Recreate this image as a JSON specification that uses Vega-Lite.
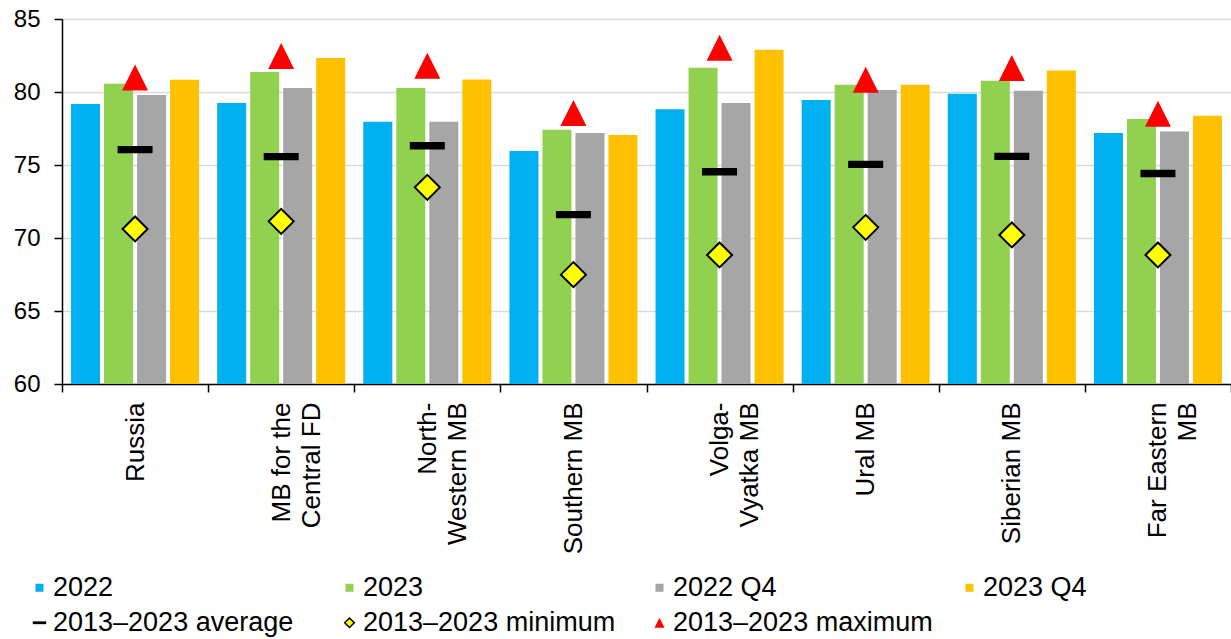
{
  "$schema": "https://vega.github.io/schema/vega-lite/v6.json",
  "width": 1169,
  "height": 365,
  "autosize": {"type": "none"},
  "padding": {"left": 62, "top": 19, "right": 0, "bottom": 255},
  "background": "white",
  "config": {
    "view": {"stroke": null},
    "font": "Liberation Sans",
    "axis": {"labelFont": "Liberation Sans", "labelColor": "#000000", "domainColor": "#000000", "tickColor": "#000000"},
    "legend": {"labelFont": "Liberation Sans", "labelColor": "#000000", "labelLimit": 400}
  },
  "datasets": {
    "bars": [
      {"region": "Russia", "series": "2022", "value": 79.18},
      {"region": "Russia", "series": "2023", "value": 80.57},
      {"region": "Russia", "series": "2022 Q4", "value": 79.79},
      {"region": "Russia", "series": "2023 Q4", "value": 80.84},
      {"region": "MB for the|Central FD", "series": "2022", "value": 79.25},
      {"region": "MB for the|Central FD", "series": "2023", "value": 81.37},
      {"region": "MB for the|Central FD", "series": "2022 Q4", "value": 80.27},
      {"region": "MB for the|Central FD", "series": "2023 Q4", "value": 82.33},
      {"region": "North-|Western MB", "series": "2022", "value": 77.97},
      {"region": "North-|Western MB", "series": "2023", "value": 80.27},
      {"region": "North-|Western MB", "series": "2022 Q4", "value": 77.97},
      {"region": "North-|Western MB", "series": "2023 Q4", "value": 80.86},
      {"region": "Southern MB", "series": "2022", "value": 75.96},
      {"region": "Southern MB", "series": "2023", "value": 77.42},
      {"region": "Southern MB", "series": "2022 Q4", "value": 77.19},
      {"region": "Southern MB", "series": "2023 Q4", "value": 77.05},
      {"region": "Volga-|Vyatka MB", "series": "2022", "value": 78.81},
      {"region": "Volga-|Vyatka MB", "series": "2023", "value": 81.66},
      {"region": "Volga-|Vyatka MB", "series": "2022 Q4", "value": 79.25},
      {"region": "Volga-|Vyatka MB", "series": "2023 Q4", "value": 82.9},
      {"region": "Ural MB", "series": "2022", "value": 79.45},
      {"region": "Ural MB", "series": "2023", "value": 80.5},
      {"region": "Ural MB", "series": "2022 Q4", "value": 80.14},
      {"region": "Ural MB", "series": "2023 Q4", "value": 80.5},
      {"region": "Siberian MB", "series": "2022", "value": 79.88},
      {"region": "Siberian MB", "series": "2023", "value": 80.77},
      {"region": "Siberian MB", "series": "2022 Q4", "value": 80.09},
      {"region": "Siberian MB", "series": "2023 Q4", "value": 81.48},
      {"region": "Far Eastern|MB", "series": "2022", "value": 77.19},
      {"region": "Far Eastern|MB", "series": "2023", "value": 78.15},
      {"region": "Far Eastern|MB", "series": "2022 Q4", "value": 77.3},
      {"region": "Far Eastern|MB", "series": "2023 Q4", "value": 78.38}
    ],
    "stats": [
      {"region": "Russia", "stat": "2013–2023 average", "value": 76.05},
      {"region": "Russia", "stat": "2013–2023 minimum", "value": 70.62},
      {"region": "Russia", "stat": "2013–2023 maximum", "value": 80.99},
      {"region": "MB for the|Central FD", "stat": "2013–2023 average", "value": 75.57},
      {"region": "MB for the|Central FD", "stat": "2013–2023 minimum", "value": 71.14},
      {"region": "MB for the|Central FD", "stat": "2013–2023 maximum", "value": 82.47},
      {"region": "North-|Western MB", "stat": "2013–2023 average", "value": 76.32},
      {"region": "North-|Western MB", "stat": "2013–2023 minimum", "value": 73.47},
      {"region": "North-|Western MB", "stat": "2013–2023 maximum", "value": 81.8},
      {"region": "Southern MB", "stat": "2013–2023 average", "value": 71.6},
      {"region": "Southern MB", "stat": "2013–2023 minimum", "value": 67.49},
      {"region": "Southern MB", "stat": "2013–2023 maximum", "value": 78.56},
      {"region": "Volga-|Vyatka MB", "stat": "2013–2023 average", "value": 74.54},
      {"region": "Volga-|Vyatka MB", "stat": "2013–2023 minimum", "value": 68.84},
      {"region": "Volga-|Vyatka MB", "stat": "2013–2023 maximum", "value": 83.03},
      {"region": "Ural MB", "stat": "2013–2023 average", "value": 75.04},
      {"region": "Ural MB", "stat": "2013–2023 minimum", "value": 70.73},
      {"region": "Ural MB", "stat": "2013–2023 maximum", "value": 80.84},
      {"region": "Siberian MB", "stat": "2013–2023 average", "value": 75.59},
      {"region": "Siberian MB", "stat": "2013–2023 minimum", "value": 70.21},
      {"region": "Siberian MB", "stat": "2013–2023 maximum", "value": 81.64},
      {"region": "Far Eastern|MB", "stat": "2013–2023 average", "value": 74.42},
      {"region": "Far Eastern|MB", "stat": "2013–2023 minimum", "value": 68.84},
      {"region": "Far Eastern|MB", "stat": "2013–2023 maximum", "value": 78.51}
    ]
  },
  "layer": [
    {
      "data": {"name": "bars"},
      "mark": {"type": "bar", "clip": true},
      "encoding": {
        "x": {
          "field": "region", "type": "nominal",
          "sort": ["Russia", "MB for the|Central FD", "North-|Western MB", "Southern MB", "Volga-|Vyatka MB", "Ural MB", "Siberian MB", "Far Eastern|MB"],
          "scale": {"paddingInner": 0, "paddingOuter": 0},
          "axis": {
            "title": null, "labelAngle": 270, "labelAlign": "right", "labelBaseline": "middle",
            "labelFontSize": 26, "labelLineHeight": 30, "labelLimit": 400,
            "tickBand": "extent", "tickSize": 8, "tickWidth": 1.5, "labelPadding": 10,
            "domainWidth": 1.5, "grid": false,
            "labelExpr": "split(datum.label, '|')"
          }
        },
        "xOffset": {
          "field": "series", "type": "nominal",
          "sort": ["2022", "2023", "2022 Q4", "2023 Q4"],
          "scale": {"paddingInner": 0.121, "paddingOuter": 0.274}
        },
        "y": {
          "field": "value", "type": "quantitative",
          "scale": {"domain": [60, 85], "nice": false, "zero": false},
          "axis": {
            "title": null, "values": [60, 65, 70, 75, 80, 85], "grid": true,
            "gridColor": "#D9D9D9", "gridWidth": 1.5, "domainWidth": 1.5,
            "tickSize": 8, "tickWidth": 1.5, "labelPadding": 14, "labelFontSize": 24
          }
        },
        "color": {
          "field": "series", "type": "nominal",
          "scale": {"domain": ["2022", "2023", "2022 Q4", "2023 Q4"], "range": ["#00B0F0", "#92D050", "#A6A6A6", "#FFC000"]},
          "legend": {
            "title": null, "orient": "none", "legendX": -36, "legendY": 555,
            "direction": "horizontal", "columns": 4, "gridAlign": "all", "columnPadding": 179,
            "symbolType": "square", "symbolSize": 64, "symbolStrokeWidth": 0,
            "labelFontSize": 27, "labelOffset": 0, "padding": 0, "labelLimit": 400
          }
        }
      }
    },
    {
      "data": {"name": "stats"},
      "mark": {"type": "point", "filled": true, "size": 1225, "strokeWidth": 2, "opacity": 1},
      "encoding": {
        "x": {
          "field": "region", "type": "nominal",
          "sort": ["Russia", "MB for the|Central FD", "North-|Western MB", "Southern MB", "Volga-|Vyatka MB", "Ural MB", "Siberian MB", "Far Eastern|MB"]
        },
        "y": {"field": "value", "type": "quantitative"},
        "shape": {
          "field": "stat", "type": "nominal",
          "scale": {
            "domain": ["2013–2023 average", "2013–2023 minimum", "2013–2023 maximum"],
            "range": ["M-1,-0.21L1,-0.21L1,0.21L-1,0.21Z", "M0,-0.714L0.714,0L0,0.714L-0.714,0Z", "M0,-0.743L0.743,0.743L-0.743,0.743Z"]
          },
          "legend": {
            "title": null, "orient": "none", "legendX": -36, "legendY": 590,
            "direction": "horizontal", "columns": 4, "gridAlign": "all", "columnPadding": 23,
            "symbolSize": 180, "symbolStrokeWidth": 1.5,
            "labelFontSize": 27, "labelOffset": 0, "padding": 0, "labelLimit": 400
          }
        },
        "fill": {
          "field": "stat", "type": "nominal",
          "scale": {
            "domain": ["2013–2023 average", "2013–2023 minimum", "2013–2023 maximum"],
            "range": ["#000000", "#FFFF00", "#FF0000"]
          }
        },
        "stroke": {
          "field": "stat", "type": "nominal",
          "scale": {
            "domain": ["2013–2023 average", "2013–2023 minimum", "2013–2023 maximum"],
            "range": ["transparent", "#000000", "transparent"]
          }
        }
      }
    }
  ]
}
